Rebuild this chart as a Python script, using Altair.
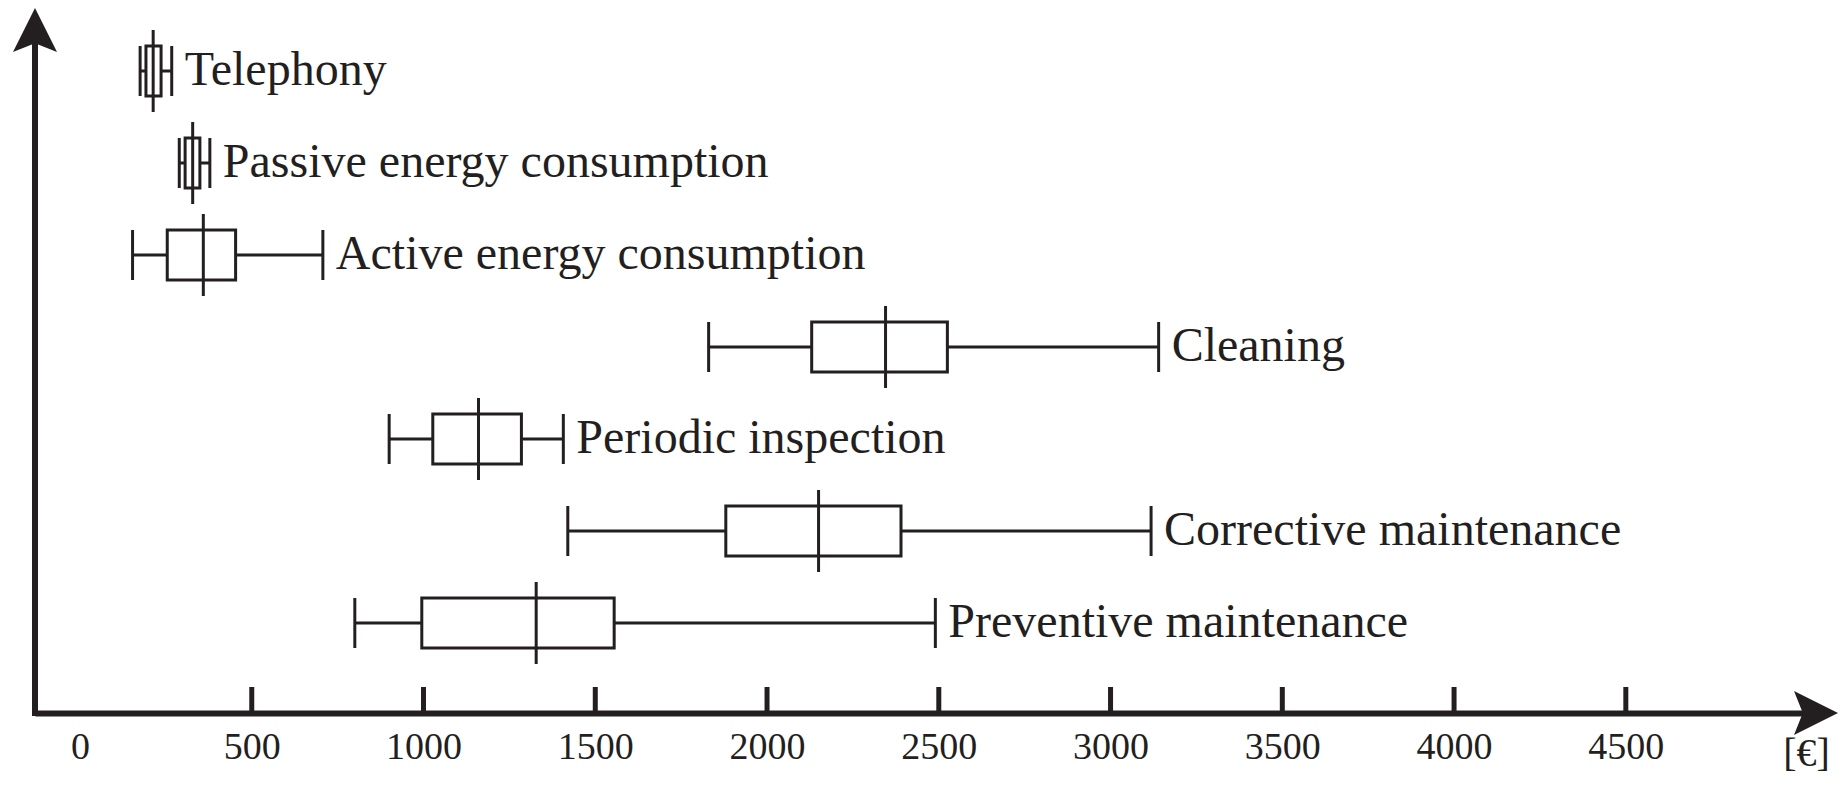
import altair as alt
import pandas as pd

# ---- data ----
categories = [
    "Telephony",
    "Passive energy consumption",
    "Active energy consumption",
    "Cleaning",
    "Periodic inspection",
    "Corrective maintenance",
    "Preventive maintenance",
]
whisker_low = [175, 289, 153, 1830, 900, 1420, 800]
q1 = [192, 306, 254, 2130, 1027, 1880, 995]
median = [213, 328, 359, 2345, 1160, 2150, 1328]
q3 = [236, 349, 453, 2525, 1285, 2390, 1555]
whisker_high = [267, 378, 707, 3140, 1407, 3118, 2490]

tick_values = [0, 500, 1000, 1500, 2000, 2500, 3000, 3500, 4000, 4500]
tick_marks = [500, 1000, 1500, 2000, 2500, 3000, 3500, 4000, 4500]
x_domain = [-131, 5074]
unit_label = "[€]"

df = pd.DataFrame({
    "cat": categories,
    "lo": whisker_low,
    "q1": q1,
    "med": median,
    "q3": q3,
    "hi": whisker_high,
})
ticks_df = pd.DataFrame({"v": tick_marks})
one_df = pd.DataFrame({"v": [x_domain[1]]})

# ---- layout / style ----
W, H = 1788, 705
INK = "#231f20"
SERIF = "Liberation Serif"

xscale = alt.Scale(domain=x_domain, nice=False, zero=False)
yenc = alt.Y(
    "cat:N",
    scale=alt.Scale(type="point", domain=categories, range=[63, 615], padding=0),
    axis=None,
)

xaxis = alt.Axis(
    values=tick_values,
    format="d",
    ticks=False,
    grid=False,
    domain=True,
    domainWidth=6,
    domainColor=INK,
    labelFont=SERIF,
    labelFontSize=38,
    labelColor=INK,
    labelPadding=15,
    labelFlush=False,
    title=unit_label,
    titleFont=SERIF,
    titleFontSize=40,
    titleFontWeight="normal",
    titleColor=INK,
    titleAlign="center",
    titleBaseline="middle",
    titleAnchor="start",
    titleX=1771,
    titleY=40,
)

base = alt.Chart(df).encode(y=yenc)

whisker = base.mark_rule(color=INK, strokeWidth=3).encode(
    x=alt.X("lo:Q", scale=xscale, axis=xaxis), x2="hi:Q"
)
box = base.mark_bar(fill="white", stroke=INK, strokeWidth=3, size=50).encode(
    x=alt.X("q1:Q", scale=xscale), x2="q3:Q"
)
cap_lo = base.mark_tick(color=INK, thickness=3, size=50, opacity=1).encode(
    x=alt.X("lo:Q", scale=xscale)
)
cap_hi = base.mark_tick(color=INK, thickness=3, size=50, opacity=1).encode(
    x=alt.X("hi:Q", scale=xscale)
)
med = base.mark_tick(color=INK, thickness=3, size=82, opacity=1).encode(
    x=alt.X("med:Q", scale=xscale)
)
labels = base.mark_text(
    align="left", baseline="middle", dx=13, font=SERIF, fontSize=48, color=INK
).encode(x=alt.X("hi:Q", scale=xscale), text="cat:N")

xticks = alt.Chart(ticks_df).mark_rule(color=INK, strokeWidth=5).encode(
    x=alt.X("v:Q", scale=xscale), y=alt.value(H - 26), y2=alt.value(H)
)
yaxis_line = alt.Chart(one_df).mark_rule(color=INK, strokeWidth=6).encode(
    x=alt.value(0), y=alt.value(20), y2=alt.value(H + 3)
)
arrow_up = alt.Chart(one_df).mark_point(
    shape="M 0 -1 L 1 1 L 0 0.6 L -1 1 Z", size=44 * 44, filled=True,
    color=INK, opacity=1, strokeWidth=0,
).encode(x=alt.value(0), y=alt.value(22))
arrow_right = alt.Chart(one_df).mark_point(
    shape="M 1 0 L -1 -1 L -0.6 0 L -1 1 Z", size=44 * 44, filled=True,
    color=INK, opacity=1, strokeWidth=0,
).encode(x=alt.value(W - 7), y=alt.value(H))

chart = alt.layer(
    whisker, box, med, cap_lo, cap_hi, labels, xticks, yaxis_line, arrow_up, arrow_right
).properties(
    width=W,
    height=H,
    background="white",
    autosize=alt.AutoSizeParams(type="none"),
    padding={"left": 27, "top": 0, "right": 16, "bottom": 64},
).configure_view(strokeWidth=0, stroke="transparent")

chart.save("out.html", embed_options={"renderer": "svg", "actions": False})
